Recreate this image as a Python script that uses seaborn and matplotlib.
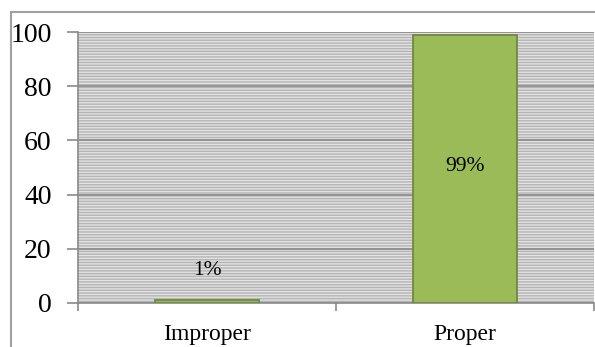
import matplotlib
matplotlib.use("Agg")
import matplotlib.pyplot as plt
from matplotlib.patches import Rectangle
from matplotlib.ticker import FixedLocator
import seaborn as sns
import pandas as pd

categories = ["Improper", "Proper"]
values = [1, 99]
value_labels = ["1%", "99%"]
y_ticks = [0, 20, 40, 60, 80, 100]

sns.set_style("white")
plt.rcParams["font.family"] = ["Liberation Serif", "DejaVu Serif"]
plt.rcParams["text.color"] = "black"
plt.rcParams["xtick.color"] = "black"
plt.rcParams["ytick.color"] = "black"
plt.rcParams["hatch.color"] = "#b4b4b4"
plt.rcParams["hatch.linewidth"] = 1.0

W, H = 595, 347
fig = plt.figure(figsize=(W / 100, H / 100), dpi=100)
ax = fig.add_axes([78 / W, 1 - 303 / H, (594 - 78) / W, (303 - 32) / H])

# striped plot-area background
ax.patch.set_facecolor("#e2e2e2")
ax.patch.set_hatch("------")
ax.patch.set_edgecolor("#b4b4b4")
ax.patch.set_linewidth(0)

df = pd.DataFrame({"category": categories, "value": values})
sns.barplot(data=df, x="category", y="value", ax=ax, width=0.4,
            color="#9BBB59", edgecolor="#71893F", linewidth=1.3,
            saturation=1, zorder=3)

ax.set_xlim(-0.5, 1.5)
ax.set_ylim(0, 100)
ax.set_yticks(y_ticks)
ax.set_xlabel("")
ax.set_ylabel("")

ax.yaxis.grid(True, color="#8a8a8a", linewidth=1.2, zorder=1)
ax.set_axisbelow(True)

for s in ["top", "right"]:
    ax.spines[s].set_visible(False)
for s in ["left", "bottom"]:
    ax.spines[s].set_color("#8a8a8a")
    ax.spines[s].set_linewidth(1.2)

ax.tick_params(axis="y", direction="out", length=8, width=1.2, color="#8a8a8a",
               labelcolor="black", labelsize=20, pad=11, left=True)
ax.tick_params(axis="x", which="major", length=0, labelsize=17,
               labelcolor="black", pad=15)
ax.xaxis.set_minor_locator(FixedLocator([-0.5, 0.5, 1.5]))
ax.tick_params(axis="x", which="minor", direction="out", length=6, width=1.2,
               color="#8a8a8a", bottom=True)

for i, (v, lab) in enumerate(zip(values, value_labels)):
    y = v / 2 + 0.7 if v > 20 else v + 11
    ax.text(i, y, lab, ha="center", va="center", fontsize=15.5, color="black", zorder=4)

# outer chart frame
fig.add_artist(Rectangle((11 / W, -0.2), 1.2, 1.2 - 12 / H,
                         transform=fig.transFigure, fill=False,
                         edgecolor="#a0a0a0", linewidth=1.5))

fig.savefig("out.png", dpi=100)
